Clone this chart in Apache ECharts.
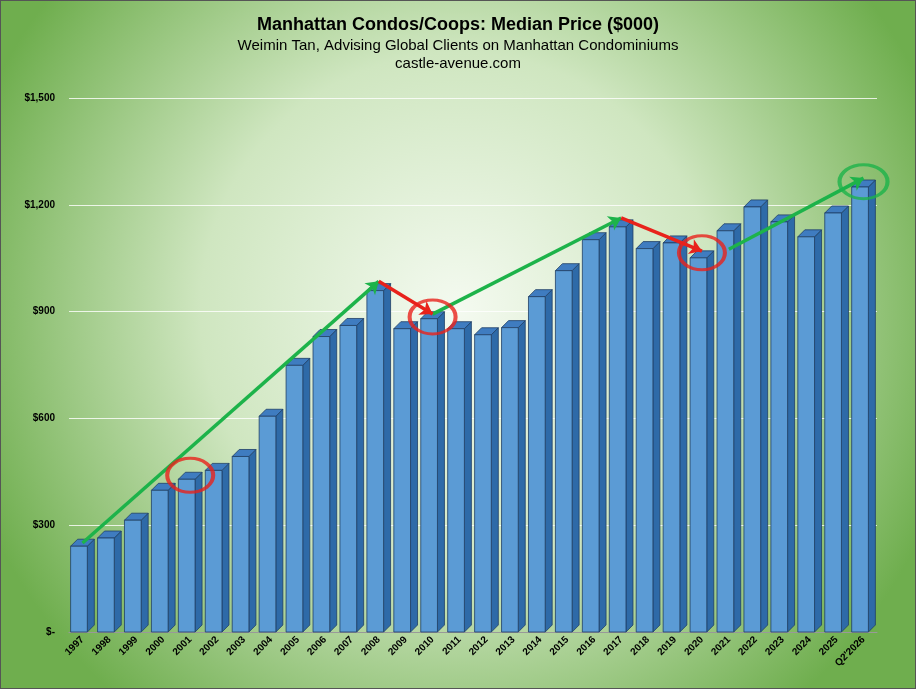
<!DOCTYPE html>
<html><head><meta charset="utf-8">
<script src="https://cdn.jsdelivr.net/npm/echarts@6/dist/echarts.min.js"></script>
<style>
html,body{margin:0;padding:0;}
#c{width:914px;height:687px;border:1px solid #555;}
</style></head>
<body><div id="c"></div>
<script>
var years = ['1997','1998','1999','2000','2001','2002','2003','2004','2005','2006','2007','2008','2009','2010','2011','2012','2013','2014','2015','2016','2017','2018','2019','2020','2021','2022','2023','2024','2025',"Q2'2026"];
var prices = [241,264,314,398,429,454,493,606,749,830,861,959,852,880,852,835,855,942,1015,1102,1138,1077,1093,1051,1127,1194,1152,1110,1177,1250];
var trendUp1 = [['1997',250],['2008',985]];
var trendUp2 = [['2010',893],['2017',1163]];
var trendUp3 = [['2021',1075],["Q2'2026",1275]];
var dropA = [['2008',985],['2010',893]];
var dropB = [['2017',1163],['2020',1070]];
var redCircles = [['2001',440],['2010',885],['2020',1065]];
var greenCircles = [["Q2'2026",1265]];
var notes = [
  {at:['2000',505], text:'Sept 11', dx:0},
  {at:['2011',985], text:'Great Recession\n(Lehman)', dx:-12},
  {at:['2020',1145], text:'Covid-19\nRecession', dx:0},
  {at:["Q2'2026",1340], text:'High\nMortgage Rates', dx:-12}
];

var chart = echarts.init(document.getElementById('c'));
var D = 7;
function bar3d(params, api){
  var p = api.coord([api.value(0), api.value(1)]);
  var b = api.coord([api.value(0), 0]);
  var w = api.size([1,0])[0]*0.62;
  var x0 = p[0]-w/2 - D/2, x1 = x0 + w;
  var top = p[1], bot = b[1];
  return {type:'group', children:[
    {type:'polygon', shape:{points:[[x1,top],[x1+D,top-D],[x1+D,bot-D],[x1,bot]]}, style:{fill:'#2e6aa8',stroke:'#1f3f66',lineWidth:0.8}},
    {type:'polygon', shape:{points:[[x0,top],[x0+D,top-D],[x1+D,top-D],[x1,top]]}, style:{fill:'#3f7cc0',stroke:'#1f3f66',lineWidth:0.8}},
    {type:'rect', shape:{x:x0,y:top,width:w,height:bot-top}, style:{fill:'#5b9bd5',stroke:'#1f3f66',lineWidth:0.8}}
  ]};
}
function seg(data, color){
  return [{coord:data[0]},{coord:data[1],lineStyle:{color:color,width:3.5,type:'solid'}}];
}
chart.setOption({
  backgroundColor:{type:'radial',x:0.5,y:0.45,r:0.75,colorStops:[{offset:0,color:'#f4faf0'},{offset:0.5,color:'#cfe6c0'},{offset:1,color:'#6fae4e'}]},
  title:{text:'Manhattan Condos/Coops: Median Price ($000)',
    subtext:'Weimin Tan, Advising Global Clients on Manhattan Condominiums\ncastle-avenue.com',
    left:'center', top:10, itemGap:3,
    textStyle:{fontFamily:'Arial, Liberation Sans',fontSize:18,fontWeight:'bold',color:'#000'},
    subtextStyle:{fontFamily:'Arial, Liberation Sans',fontSize:15,color:'#000',lineHeight:18}},
  grid:{left:68,right:38,top:97,bottom:56},
  xAxis:{type:'category',data:years,axisTick:{show:false},
    axisLine:{lineStyle:{color:'#999'}},
    axisLabel:{rotate:45,interval:0,fontSize:10,fontWeight:'bold',color:'#000',fontFamily:'Arial, Liberation Sans',margin:6}},
  yAxis:{type:'value',min:0,max:1500,interval:300,
    axisLabel:{fontSize:10,fontWeight:'bold',color:'#000',fontFamily:'Arial, Liberation Sans',margin:14,
      formatter:function(v){return v===0?'$-':'$'+v.toLocaleString('en-US');}},
    splitLine:{lineStyle:{color:'rgba(255,255,255,0.8)'}}},
  series:[
    {type:'custom', renderItem:bar3d, data:years.map(function(y,i){return [i,prices[i]];}), z:2},
    {type:'line',data:[],markLine:{silent:true,symbol:['none','arrow'],symbolSize:12,label:{show:false},
      data:[seg(trendUp1,'#1db34a'),seg(trendUp2,'#1db34a'),seg(trendUp3,'#1db34a'),
            seg(dropA,'#e8221b'),seg(dropB,'#e8221b')]}, z:6},
    {type:'scatter',data:redCircles,symbol:'circle',symbolSize:[46,34],
      itemStyle:{color:'none',borderColor:'#e8221b',borderWidth:3.5},z:7,silent:true},
    {type:'scatter',data:greenCircles,symbol:'circle',symbolSize:[48,34],
      itemStyle:{color:'none',borderColor:'#1db34a',borderWidth:3.5},z:7,silent:true},
    {type:'scatter',data:notes.map(function(n){return {value:n.at,label:{formatter:n.text,offset:[n.dx,0]}};}),
      symbolSize:1,itemStyle:{opacity:0},z:8,silent:true,
      label:{show:true,position:'inside',fontSize:12,fontWeight:'bold',color:'#000',
        fontFamily:'Arial, Liberation Sans',textBorderWidth:0,lineHeight:15}}
  ]
});
</script></body></html>
